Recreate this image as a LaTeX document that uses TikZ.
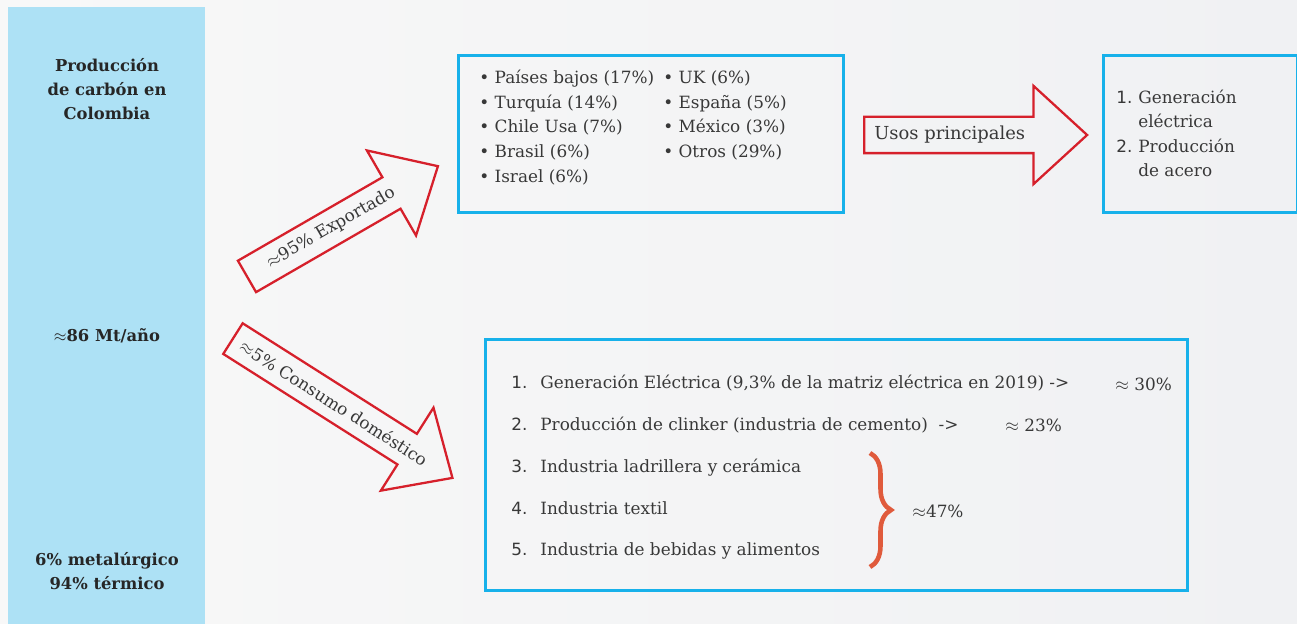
\documentclass[tikz,border=0pt]{standalone}
\usepackage{fontspec}
\setmainfont{DejaVu Serif}
\setsansfont{DejaVu Sans}
\usetikzlibrary{shapes.arrows,decorations.pathreplacing,calc}
\definecolor{colfill}{HTML}{ADE1F5}
\definecolor{boxcyan}{HTML}{17B1EA}
\definecolor{arrowred}{HTML}{D6202B}
\definecolor{bracered}{HTML}{E05A3C}
\definecolor{textgray}{HTML}{383838}
\definecolor{bgleft}{HTML}{F8F8F8}
\definecolor{bgright}{HTML}{F0F1F3}
\begin{document}
\begin{tikzpicture}[x=0.02cm, y=-0.02cm,
    every node/.style={text=textgray, font=\fontsize{9.6}{14}\selectfont, inner sep=0pt},
    box/.style={draw=boxcyan, line width=1.6pt, anchor=north west},
    bigarrow/.style={single arrow, draw=arrowred, line width=1.3pt, single arrow head extend=0.62cm,
        single arrow tip angle=85, text height=0pt, text depth=0pt, inner ysep=0.34cm, inner xsep=0pt, anchor=tail},
    side/.style={font=\bfseries\fontsize{9.3}{13.6}\selectfont, align=center, text=black!85}]
    \useasboundingbox (0,0) rectangle (1297,624);
    \shade[left color=bgleft, right color=bgright] (0,0) rectangle (1297,624);
    \node[fill=colfill, minimum width=3.94cm, minimum height=12.4cm, anchor=north west] (columna) at (8,7) {};
    \node[side] (titulo) at (107,89) {Producción\\de carbón en\\Colombia};
    \node[side] (total) at (107,336) {$\approx$86 Mt/año};
    \node[side] (tipo) at (107,571) {6\% metalúrgico\\94\% térmico};

    \node[box, minimum width=7.7cm, minimum height=3.14cm] (paisbox) at (457,54) {};
    \node[box, minimum width=3.88cm, minimum height=3.14cm] (usobox) at (1102,54) {};
    \node[box, minimum width=14.04cm, minimum height=5.02cm] (consbox) at (484,338) {};

    \node[anchor=west, font=\fontsize{9.6}{14.2}\selectfont] (paises) at (479,128) {\begin{tabular}{@{}p{3.68cm}@{}l@{}}
        \textbullet\ Países bajos (17\%) & \textbullet\ UK (6\%)\\
        \textbullet\ Turquía (14\%) & \textbullet\ España (5\%)\\
        \textbullet\ Chile Usa (7\%) & \textbullet\ México (3\%)\\
        \textbullet\ Brasil (6\%) & \textbullet\ Otros (29\%)\\
        \textbullet\ Israel (6\%) &
    \end{tabular}};
    \node[anchor=west] (usolista) at (1116,135) {\begin{tabular}{@{}p{0.44cm}@{}l@{}}
        \textsf{1.} & Generación\\
         & eléctrica\\
        \textsf{2.} & Producción\\
         & de acero
    \end{tabular}};
    \node[anchor=west, font=\fontsize{9.6}{23.8}\selectfont] (conslista) at (511,464) {\begin{tabular}{@{}p{0.58cm}@{}l@{}}
        \textsf{1.} & Generación Eléctrica (9,3\% de la matriz eléctrica en 2019) ->\\
        \textsf{2.} & Producción de clinker (industria de cemento)~~->\\
        \textsf{3.} & Industria ladrillera y cerámica\\
        \textsf{4.} & Industria textil\\
        \textsf{5.} & Industria de bebidas y alimentos
    \end{tabular}};
    \node[anchor=west] (p30) at (1115,384) {$\approx$ 30\%};
    \node[anchor=west] (p23) at (1005,425) {$\approx$ 23\%};
    \coordinate (llavea) at (870,453);
    \coordinate (llaveb) at (870,567);
    \draw[bracered, line width=2.6pt, decorate, decoration={brace, amplitude=0.42cm}] (llavea) -- (llaveb);
    \node[anchor=west] (p47) at (912,511) {$\approx$47\%};

    \node[bigarrow, rotate=30, minimum height=4.41cm] (exporta) at (246,277) {};
    \node[bigarrow, rotate=-32.4, minimum height=5.2cm] (consumo) at (232,338) {};
    \node[bigarrow, minimum height=4.46cm] (usos) at (863,135) {};
    \node[rotate=30] (exptxt) at ($(exporta.tail)!0.44!(exporta.tip)$) {$\approx$95\% Exportado};
    \node[rotate=-32.4] (constxt) at ($(consumo.tail)!0.46!(consumo.tip)$) {$\approx$5\% Consumo doméstico};
    \node[anchor=west, font=\fontsize{10.2}{14}\selectfont] (usostxt) at ($(usos.tail)+(11,0)$) {Usos principales};
\end{tikzpicture}
\end{document}
